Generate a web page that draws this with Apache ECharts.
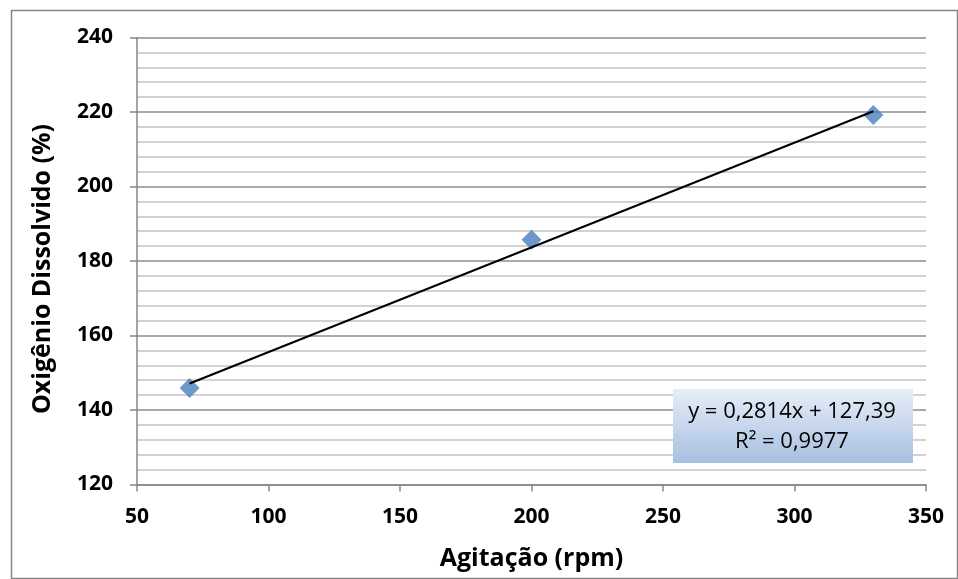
<!DOCTYPE html>
<html><head><meta charset="utf-8">
<script src="https://cdn.jsdelivr.net/npm/echarts@6/dist/echarts.min.js"></script>
<style>html,body{margin:0;padding:0;background:#fff}#c{width:958px;height:579px}</style>
</head><body><div id="c"></div>
<script>
const agitacao = [70, 200, 330];
const oxigenio = [145.9, 185.7, 219.2];
const trendX = [70, 330];
const trendY = [147.1, 220.2];
const xTicks = [50, 100, 150, 200, 250, 300, 350];
const yTicks = [120, 140, 160, 180, 200, 220, 240];
const eqText = 'y = 0,2814x + 127,39';
const r2Text = 'R² = 0,9977';
const FONT = 'Open Sans';

const chart = echarts.init(document.getElementById('c'), null, {renderer: 'canvas'});
chart.setOption({
  animation: false,
  backgroundColor: '#fff',
  grid: {left: 137, right: 32, top: 37.5, bottom: 94.5},
  xAxis: {
    type: 'value', min: xTicks[0], max: xTicks[xTicks.length-1], interval: 50,
    name: 'Agitação (rpm)', nameLocation: 'middle', nameGap: 62,
    nameTextStyle: {fontFamily: FONT, fontWeight: 'bold', fontSize: 25, color: '#000'},
    axisLine: {show: true, lineStyle: {color: '#868686', width: 1.5}},
    axisTick: {show: true, length: 7, lineStyle: {color: '#868686', width: 1.5}},
    axisLabel: {fontFamily: FONT, fontWeight: 'bold', fontSize: 21, color: '#000', margin: 22},
    splitLine: {show: false}
  },
  yAxis: {
    type: 'value', min: yTicks[0], max: yTicks[yTicks.length-1], interval: 20,
    name: 'Oxigênio Dissolvido (%)', nameLocation: 'middle', nameGap: 82, nameRotate: 90,
    nameTextStyle: {fontFamily: FONT, fontWeight: 'bold', fontSize: 25, color: '#000', padding: [0, 16, 0, 0]},
    axisLine: {show: true, lineStyle: {color: '#868686', width: 1.5}},
    axisTick: {show: true, length: 7, lineStyle: {color: '#868686', width: 1.5}},
    axisLabel: {fontFamily: FONT, fontWeight: 'bold', fontSize: 21, color: '#000', margin: 24},
    splitLine: {show: true, lineStyle: {color: '#8c8c8c', width: 1.5}},
    minorTick: {show: false, splitNumber: 5},
    minorSplitLine: {show: true, lineStyle: {color: '#c4c4c4', width: 1.5}}
  },
  series: [
    {
      type: 'line', data: trendX.map((x, i) => [x, trendY[i]]),
      showSymbol: false, symbol: 'none', lineStyle: {color: '#000', width: 2}, z: 3
    },
    {
      type: 'scatter', data: agitacao.map((x, i) => [x, oxigenio[i]]),
      symbol: 'diamond', symbolSize: 20, itemStyle: {color: '#4a7ebb'}, z: 2
    }
  ],
  graphic: [
    {type: 'rect', left: 9, top: 8, shape: {width: 946, height: 568},
     style: {fill: 'none', stroke: '#868686', lineWidth: 1.5}, z: 0, silent: true},
    {type: 'rect', left: 673, top: 389, shape: {width: 240, height: 74},
     style: {fill: new echarts.graphic.LinearGradient(0, 0, 0, 1, [
       {offset: 0, color: '#e6eef8'}, {offset: 1, color: '#a7bfe0'}])}, z: 10},
    {type: 'text', x: 792, y: 412, z: 11,
     style: {text: eqText, fontFamily: FONT, fontSize: 22, fill: '#000',
       textAlign: 'center', textVerticalAlign: 'middle'}},
    {type: 'text', x: 792, y: 442, z: 11,
     style: {text: r2Text, fontFamily: FONT, fontSize: 22, fill: '#000',
       textAlign: 'center', textVerticalAlign: 'middle'}}
  ]
});
</script></body></html>
